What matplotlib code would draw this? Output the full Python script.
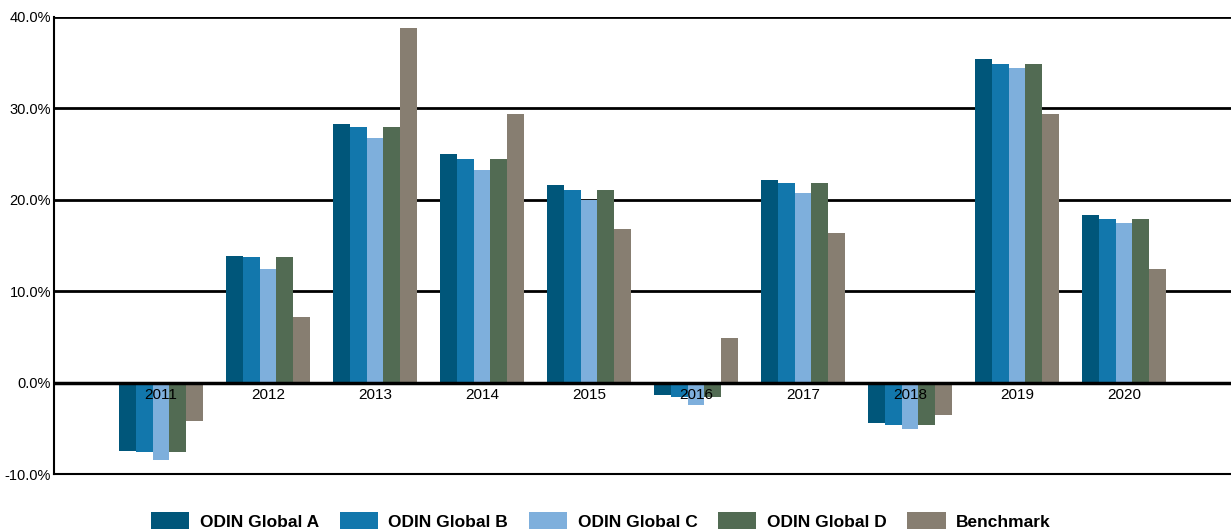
import matplotlib
matplotlib.use("Agg")
import matplotlib.pyplot as plt
import numpy as np

years = ["2011", "2012", "2013", "2014", "2015", "2016", "2017", "2018", "2019", "2020"]
series_names = ["ODIN Global A", "ODIN Global B", "ODIN Global C", "ODIN Global D", "Benchmark"]
global_a = [-7.45, 13.9, 28.3, 25.0, 21.6, -1.4, 22.2, -4.4, 35.4, 18.35]
global_b = [-7.6, 13.7, 28.0, 24.5, 21.1, -1.6, 21.8, -4.6, 34.9, 17.9]
global_c = [-8.5, 12.4, 26.8, 23.3, 20.0, -2.4, 20.7, -5.1, 34.4, 17.5]
global_d = [-7.6, 13.7, 28.0, 24.5, 21.1, -1.6, 21.8, -4.6, 34.9, 17.9]
benchmark = [-4.2, 7.2, 38.8, 29.4, 16.8, 4.9, 16.4, -3.5, 29.4, 12.4]
y_ticks = [-10, 0, 10, 20, 30, 40]

colors = ["#00567a", "#1277ac", "#7eafdc", "#526b53", "#877e71"]

plt.rcParams['font.family'] = ['Liberation Sans', 'DejaVu Sans']

fig = plt.figure(figsize=(12.31, 5.32), dpi=100)
ax = fig.add_axes([54/1231, 1 - 474/532, 1 - 54/1231, (474 - 17)/532])

x = np.arange(len(years))
w = 0.158
all_series = [global_a, global_b, global_c, global_d, benchmark]
for i, (vals, name, c) in enumerate(zip(all_series, series_names, colors)):
    ax.bar(x + (i - 2) * w, vals, width=w, color=c, label=name, zorder=2, linewidth=0)

ax.set_xlim(-1, 10)
ax.set_ylim(-10, 40)
ax.set_yticks(y_ticks)
ax.set_yticklabels([f"{t:.1f}%" for t in y_ticks], fontsize=10.5)
ax.set_xticks([])
ax.tick_params(axis='y', length=0, pad=2)

for t in y_ticks[1:]:
    ax.axhline(t, color="black", linewidth=2 if t != 0 else 2.5, zorder=3 if t == 0 else 1)

for spine in ["top", "right"]:
    ax.spines[spine].set_visible(False)
ax.spines["left"].set_linewidth(1.5)
ax.spines["bottom"].set_linewidth(1.5)

for xi, yr in zip(x, years):
    ax.text(xi, -0.6, yr, ha="center", va="top", fontsize=11, zorder=4)

leg = fig.legend(loc="center", bbox_to_anchor=(601/1231, 1 - 521/532), ncol=5, frameon=False,
                 prop={"weight": "bold", "size": 12.5}, handlelength=2.2, handleheight=1.1,
                 columnspacing=1.2, handletextpad=0.6)

fig.savefig("out.png", dpi=100)
